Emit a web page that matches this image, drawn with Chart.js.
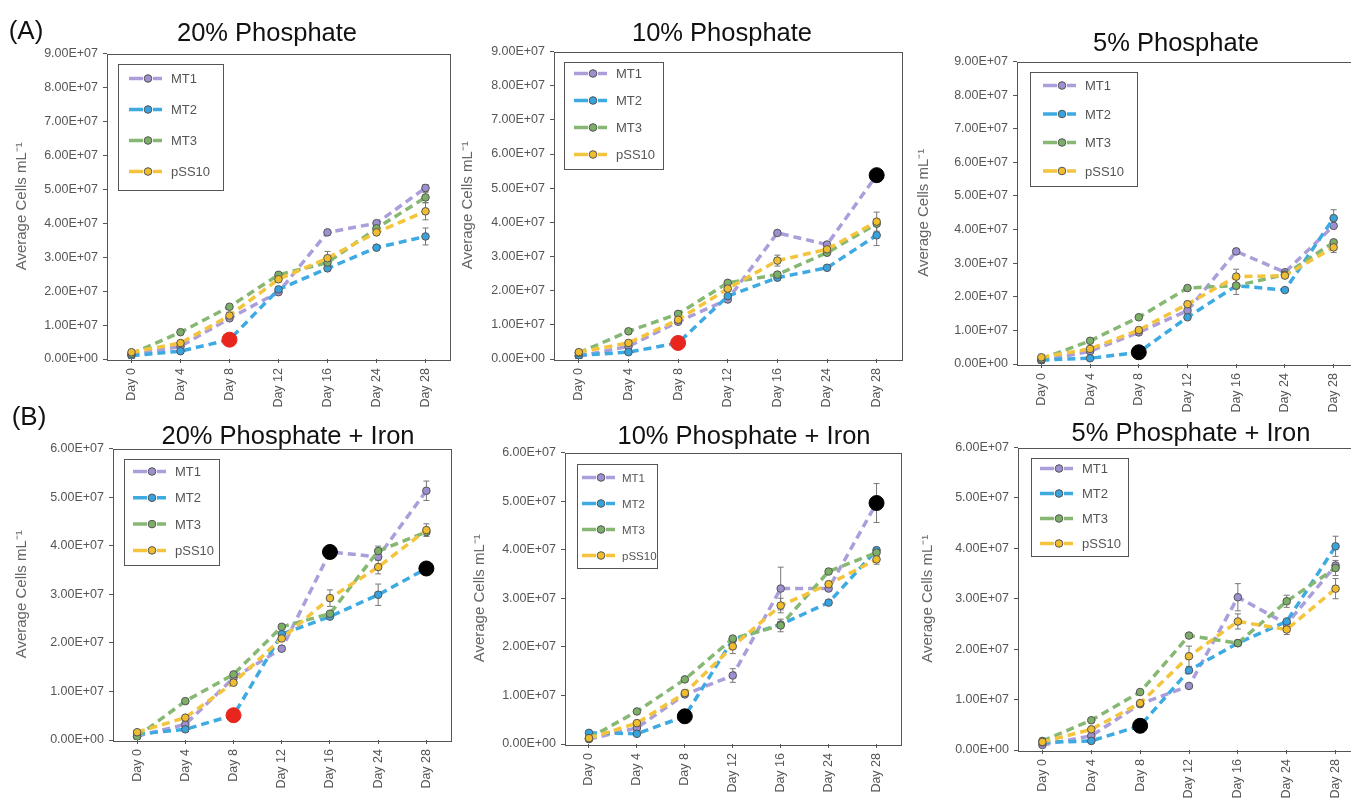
<!DOCTYPE html>
<html>
<head>
<meta charset="utf-8">
<script src="https://cdn.jsdelivr.net/npm/chart.js@4.4.0/dist/chart.umd.min.js"></script>
<style>
html, body { margin: 0; padding: 0; background: #fff; width: 1351px; height: 800px; overflow: hidden; }
canvas { position: absolute; }
.ttl { position: absolute; transform: translate(-50%, -50%); font: 25.5px "Liberation Sans", Arial, sans-serif; color: #111; white-space: nowrap; z-index: 2; }
.tag { position: absolute; transform: translate(-50%, -50%); font: 26px "Liberation Sans", Arial, sans-serif; color: #111; z-index: 2; }
</style>
</head>
<body>
<div class="tag" style="left:26px;top:30px">(A)</div>
<div class="tag" style="left:29px;top:416px">(B)</div>
<script>
// categories
const days = ['Day 0', 'Day 4', 'Day 8', 'Day 12', 'Day 16', 'Day 24', 'Day 28'];
const names = ['MT1', 'MT2', 'MT3', 'pSS10'];

// (A) 20% Phosphate
const a20MT1 = [1.2e6, 3.7e6, 12.0e6, 19.7e6, 37.3e6, 40.0e6, 50.4e6];
const a20MT2 = [1.0e6, 2.3e6, 5.7e6, 20.5e6, 26.7e6, 32.8e6, 36.1e6];
const a20MT3 = [1.5e6, 7.9e6, 15.4e6, 24.8e6, 28.4e6, 38.5e6, 47.6e6];
const a20PSS = [2.0e6, 4.7e6, 12.8e6, 23.5e6, 29.7e6, 37.3e6, 43.5e6];
const a20Err = { MT1: [0, 0, 0, 0, 0, 0, 1.0e6], MT2: [0, 0, 0, 0, 0, 0, 2.5e6], MT3: [0, 0, 0, 0, 0, 0, 1.5e6], pSS10: [0, 0, 1.0e6, 0, 2.0e6, 0, 2.5e6] };
const a20Marks = { MT2: { 2: '#e8261e' } };

// (A) 10% Phosphate
const a10MT1 = [0.8e6, 3.7e6, 10.9e6, 17.4e6, 36.9e6, 33.5e6, 53.8e6];
const a10MT2 = [1.1e6, 2.0e6, 4.7e6, 18.4e6, 23.8e6, 26.7e6, 36.2e6];
const a10MT3 = [1.8e6, 8.1e6, 13.2e6, 22.3e6, 24.7e6, 31.1e6, 39.6e6];
const a10PSS = [2.0e6, 4.7e6, 11.5e6, 20.6e6, 28.8e6, 32.1e6, 40.2e6];
const a10Err = { MT1: [0, 0, 0, 0, 0, 0.8e6, 0], MT2: [0, 0, 0, 0, 0, 0, 3.0e6], pSS10: [0, 0, 0, 0, 1.6e6, 0, 2.8e6] };
const a10Marks = { MT2: { 2: '#e8261e' }, MT1: { 6: '#000' } };

// (A) 5% Phosphate
const a5MT1 = [1.0e6, 3.8e6, 9.4e6, 15.9e6, 33.5e6, 27.3e6, 41.1e6];
const a5MT2 = [1.2e6, 1.7e6, 3.5e6, 13.9e6, 23.3e6, 22.0e6, 43.4e6];
const a5MT3 = [1.5e6, 6.9e6, 13.9e6, 22.6e6, 23.3e6, 26.6e6, 36.2e6];
const a5PSS = [2.0e6, 4.5e6, 10.1e6, 17.8e6, 26.0e6, 26.3e6, 34.7e6];
const a5Err = { MT1: [0, 0, 0, 0, 0.9e6, 0, 0], MT2: [0, 0, 0, 0, 0, 0, 2.5e6], MT3: [0, 0, 0, 0, 2.6e6, 0, 0], pSS10: [0, 0, 0, 0, 2.2e6, 0, 1.5e6] };
const a5Marks = { MT2: { 2: '#000' } };

// (B) 20% Phosphate + Iron
const b20MT1 = [0.8e6, 3.2e6, 12.8e6, 18.8e6, 38.7e6, 37.7e6, 51.3e6];
const b20MT2 = [1.2e6, 2.2e6, 5.1e6, 21.8e6, 25.4e6, 29.9e6, 35.3e6];
const b20MT3 = [0.7e6, 8.0e6, 13.5e6, 23.3e6, 26.0e6, 38.9e6, 42.8e6];
const b20PSS = [1.6e6, 4.6e6, 11.8e6, 20.9e6, 29.2e6, 35.6e6, 43.2e6];
const b20Err = { MT1: [0, 0, 0, 0, 1.1e6, 0, 2.0e6], MT2: [0, 0, 0, 0, 0, 2.2e6, 1.3e6], MT3: [0, 0, 0, 0, 0, 1.0e6, 0], pSS10: [0, 0, 0, 0, 1.7e6, 1.4e6, 1.3e6] };
const b20Marks = { MT2: { 2: '#e8261e', 6: '#000' }, MT1: { 4: '#000' } };

// (B) 10% Phosphate + Iron
const b10MT1 = [1.0e6, 3.3e6, 10.2e6, 14.1e6, 32.0e6, 32.0e6, 49.6e6];
const b10MT2 = [2.3e6, 2.1e6, 5.7e6, 21.5e6, 24.6e6, 29.1e6, 39.9e6];
const b10MT3 = [1.2e6, 6.7e6, 13.3e6, 21.7e6, 24.4e6, 35.5e6, 39.4e6];
const b10PSS = [1.2e6, 4.3e6, 10.5e6, 20.1e6, 28.5e6, 32.9e6, 38.0e6];
const b10Err = { MT1: [0, 0, 0, 1.4e6, 4.4e6, 0, 4.0e6], MT3: [0, 0, 0, 0, 1.3e6, 0, 0], pSS10: [0, 0, 0, 1.5e6, 1.5e6, 0, 1.0e6] };
const b10Marks = { MT2: { 2: '#000' }, MT1: { 6: '#000' } };

// (B) 5% Phosphate + Iron
const b5MT1 = [1.0e6, 2.8e6, 9.1e6, 12.7e6, 30.3e6, 25.0e6, 36.6e6];
const b5MT2 = [1.5e6, 1.8e6, 4.8e6, 15.8e6, 21.2e6, 25.5e6, 40.4e6];
const b5MT3 = [1.8e6, 5.9e6, 11.5e6, 22.7e6, 21.2e6, 29.5e6, 36.1e6];
const b5PSS = [1.6e6, 4.1e6, 9.3e6, 18.6e6, 25.5e6, 23.9e6, 32.0e6];
const b5Err = { MT1: [0, 0, 0, 0, 2.7e6, 0, 0], MT2: [0, 0, 0, 0, 0, 0, 2.0e6], MT3: [0, 0, 0, 0, 0, 1.2e6, 1.5e6], pSS10: [0, 0, 0, 2.0e6, 1.5e6, 1.0e6, 2.0e6] };
const b5Marks = { MT2: { 2: '#000' } };

const lineColors = { MT1: '#ab9edb', MT2: '#3eaae2', MT3: '#86b873', pSS10: '#f4c43c' };
const dotColors = { MT1: '#9d8fd0', MT2: '#37a2dc', MT3: '#7cae68', pSS10: '#f0bd2e' };

Chart.defaults.font.family = '"Liberation Sans", Arial, sans-serif';

function sci(v) {
  if (v === 0) return '0.00E+00';
  const e = Math.floor(Math.log10(v) + 1e-9);
  return (v / Math.pow(10, e)).toFixed(2) + 'E+' + String(e).padStart(2, '0');
}

const panels = [
  { title: '20% Phosphate', at: [267, 32], data: [a20MT1, a20MT2, a20MT3, a20PSS], err: a20Err, marks: a20Marks, yMax: 9e7,
    area: [107, 53, 450, 358], yw: 100, legend: { dx: 11, dy: 10, w: 105, h: 126, first: 25, gap: 31, pad: 11, tx: 42, font: 13 } },
  { title: '10% Phosphate', at: [722, 32], data: [a10MT1, a10MT2, a10MT3, a10PSS], err: a10Err, marks: a10Marks, yMax: 9e7,
    area: [554, 51, 901, 358], yw: 101, legend: { dx: 10, dy: 10, w: 99, h: 107, first: 22, gap: 27, pad: 10, tx: 42, font: 13 } },
  { title: '5% Phosphate', at: [1176, 42], data: [a5MT1, a5MT2, a5MT3, a5PSS], err: a5Err, marks: a5Marks, yMax: 9e7,
    area: [1017, 61, 1358, 363], yw: 108, legend: { dx: 13, dy: 10, w: 107, h: 114, first: 24, gap: 28.5, pad: 13, tx: 42, font: 13 } },
  { title: '20% Phosphate + Iron', at: [288, 435], data: [b20MT1, b20MT2, b20MT3, b20PSS], err: b20Err, marks: b20Marks, yMax: 6e7,
    area: [113, 448, 450, 739], yw: 106, legend: { dx: 11, dy: 10, w: 95, h: 106, first: 23, gap: 26.3, pad: 9, tx: 42, font: 13 } },
  { title: '10% Phosphate + Iron', at: [744, 435], data: [b10MT1, b10MT2, b10MT3, b10PSS], err: b10Err, marks: b10Marks, yMax: 6e7,
    area: [565, 452, 900, 743], yw: 100, legend: { dx: 12, dy: 11, w: 80, h: 104, first: 25, gap: 26, pad: 5, tx: 40, font: 11.5 } },
  { title: '5% Phosphate + Iron', at: [1191, 432], data: [b5MT1, b5MT2, b5MT3, b5PSS], err: b5Err, marks: b5Marks, yMax: 6e7,
    area: [1018, 447, 1360, 749], yw: 105, legend: { dx: 13, dy: 10, w: 97, h: 98, first: 21, gap: 25, pad: 9, tx: 42, font: 13 } }
];

// box round the plot area
const frame = {
  id: 'frame',
  afterDatasetsDraw(chart) {
    const a = chart.chartArea, ctx = chart.ctx;
    ctx.save();
    ctx.strokeStyle = '#555';
    ctx.lineWidth = 1;
    ctx.strokeRect(Math.round(a.left) + 0.5, Math.round(a.top) + 0.5, Math.round(a.right - a.left), Math.round(a.bottom - a.top));
    ctx.restore();
  }
};

// error bars, behind the markers
const errorBars = {
  id: 'errorBars',
  beforeDatasetsDraw(chart, args, opts) {
    const { ctx, scales: { x, y } } = chart;
    ctx.save();
    ctx.strokeStyle = '#777';
    ctx.lineWidth = 1;
    chart.data.datasets.forEach(ds => {
      const e = opts.err[ds.label];
      if (!e) return;
      ds.data.forEach((v, i) => {
        if (!e[i]) return;
        const px = x.getPixelForValue(i);
        const t = y.getPixelForValue(v + e[i]), b = y.getPixelForValue(v - e[i]);
        ctx.beginPath();
        ctx.moveTo(px, t); ctx.lineTo(px, b);
        ctx.moveTo(px - 3, t); ctx.lineTo(px + 3, t);
        ctx.moveTo(px - 3, b); ctx.lineTo(px + 3, b);
        ctx.stroke();
      });
    });
    ctx.restore();
  }
};

// legend inside the plot, with a border
const boxLegend = {
  id: 'boxLegend',
  afterDraw(chart, args, o) {
    const { ctx, chartArea: a } = chart;
    const x0 = Math.round(a.left + o.dx), y0 = Math.round(a.top + o.dy);
    ctx.save();
    ctx.fillStyle = '#fff';
    ctx.fillRect(x0, y0, o.w, o.h);
    ctx.strokeStyle = '#555';
    ctx.lineWidth = 1;
    ctx.strokeRect(x0 + 0.5, y0 + 0.5, o.w, o.h);
    ctx.font = o.font + 'px "Liberation Sans", Arial, sans-serif';
    ctx.textBaseline = 'middle';
    chart.data.datasets.forEach((ds, i) => {
      const y = a.top + o.first + i * o.gap;
      const s = x0 + o.pad;
      ctx.strokeStyle = lineColors[ds.label];
      ctx.lineWidth = 3.5;
      ctx.beginPath(); ctx.moveTo(s, y); ctx.lineTo(s + 14, y); ctx.moveTo(s + 24, y); ctx.lineTo(s + 33, y); ctx.stroke();
      ctx.beginPath();
      ctx.arc(s + 19, y, 3.8, 0, Math.PI * 2);
      ctx.fillStyle = dotColors[ds.label];
      ctx.fill();
      ctx.lineWidth = 1;
      ctx.strokeStyle = '#555';
      ctx.stroke();
      ctx.fillStyle = '#555';
      ctx.fillText(ds.label, s + o.tx, y + 1);
    });
    ctx.restore();
  }
};

function build(p, box) {
  const cv = document.createElement('canvas');
  cv.width = box.w; cv.height = box.h;
  cv.style.left = box.x + 'px'; cv.style.top = box.y + 'px';
  cv.style.width = box.w + 'px'; cv.style.height = box.h + 'px';
  document.body.appendChild(cv);

  const datasets = names.map((n, i) => {
    const m = p.marks[n] || {};
    return {
      label: n,
      data: p.data[i],
      order: 3 - i,
      borderColor: lineColors[n],
      borderWidth: 3.5,
      borderDash: [8, 5],
      fill: false,
      tension: 0,
      pointRadius: c => m[c.dataIndex] ? 7.5 : 3.8,
      pointBackgroundColor: c => m[c.dataIndex] || dotColors[n],
      pointBorderColor: c => m[c.dataIndex] || '#555',
      pointBorderWidth: 1
    };
  });

  return new Chart(cv.getContext('2d'), {
    type: 'line',
    data: { labels: days, datasets: datasets },
    options: {
      responsive: false,
      maintainAspectRatio: false,
      animation: false,
      layout: { padding: { top: 10, right: 2, left: 0, bottom: 0 } },
      plugins: {
        legend: { display: false },
        tooltip: { enabled: false },
        errorBars: { err: p.err },
        boxLegend: p.legend
      },
      scales: {
        x: {
          offset: true,
          border: { display: false },
          grid: { drawOnChartArea: false, drawTicks: true, tickLength: 4, color: '#555' },
          ticks: { autoSkip: false, minRotation: 90, maxRotation: 90, padding: 5, color: '#555', font: { size: 12.5 } },
          afterFit(s) { s.height = 60; }
        },
        y: {
          min: 0,
          max: p.yMax,
          border: { display: false },
          grid: { drawOnChartArea: false, drawTicks: true, tickLength: 4, color: '#555' },
          ticks: { stepSize: 1e7, padding: 5, color: '#555', font: { size: 12.5 }, callback: v => sci(v) },
          title: { display: true, text: 'Average Cells mL\u207B\u00B9', color: '#666', font: { size: 15 }, padding: { top: 6, bottom: 0 } },
          afterFit(s) { s.width = p.yw; }
        }
      }
    },
    plugins: [errorBars, frame, boxLegend]
  });
}

panels.forEach(p => {
  const [l, t, r, b] = p.area;
  let box = { x: l - p.yw, y: t - 10, w: r + 2 - (l - p.yw), h: b + 60 - (t - 10) };
  let chart = build(p, box);
  // nudge the canvas so the plot area lands where the reference has it
  for (let k = 0; k < 3; k++) {
    const a = chart.chartArea;
    const dx = l - (box.x + a.left), dy = t - (box.y + a.top);
    const dw = (r - l) - (a.right - a.left), dh = (b - t) - (a.bottom - a.top);
    if (Math.abs(dx) < 0.5 && Math.abs(dy) < 0.5 && Math.abs(dw) < 0.5 && Math.abs(dh) < 0.5) break;
    box = { x: Math.round(box.x + dx), y: Math.round(box.y + dy), w: Math.round(box.w + dw), h: Math.round(box.h + dh) };
    const old = chart.canvas;
    chart.destroy();
    old.remove();
    chart = build(p, box);
  }

  const ttl = document.createElement('div');
  ttl.className = 'ttl';
  ttl.textContent = p.title;
  ttl.style.left = p.at[0] + 'px';
  ttl.style.top = p.at[1] + 'px';
  document.body.appendChild(ttl);
});
</script>
</body>
</html>
